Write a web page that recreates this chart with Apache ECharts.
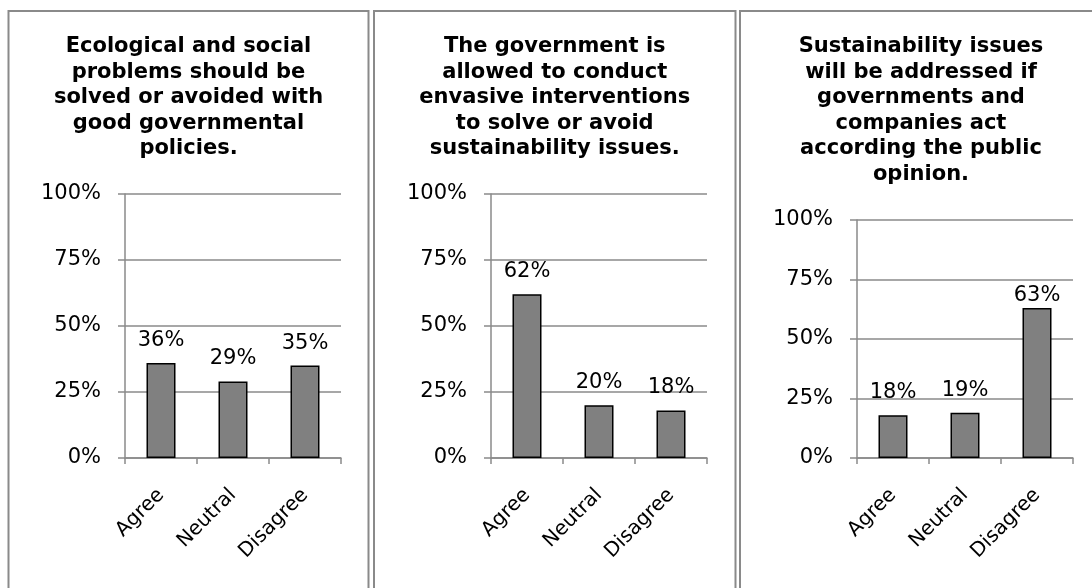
<!DOCTYPE html>
<html>
<head>
<meta charset="utf-8">
<script src="https://cdn.jsdelivr.net/npm/echarts@6/dist/echarts.min.js"></script>
<style>
  html, body { margin: 0; padding: 0; background: #ffffff; }
  #chart { width: 1092px; height: 588px; }
</style>
</head>
<body>
<div id="chart"></div>
<script>
// Survey answer categories shared by all three statements
const categories = ['Agree', 'Neutral', 'Disagree'];

// Statement headings (one per panel)
const statementTitles = [
  'Ecological and social\nproblems should be\nsolved or avoided with\ngood governmental\npolicies.',
  'The government is\nallowed to conduct\nenvasive interventions\nto solve or avoid\nsustainability issues.',
  'Sustainability issues\nwill be addressed if\ngovernments and\ncompanies act\naccording the public\nopinion.'
];

// Share of respondents (%) per answer
const policyShares = [36, 29, 35];
const interventionShares = [62, 20, 18];
const publicOpinionShares = [18, 19, 63];

// Percentage axis
const axisMin = 0;
const axisMax = 100;
const axisStep = 25;

const seriesValues = [policyShares, interventionShares, publicOpinionShares];

// Panel frames and plot areas (pixels)
const panels = [
  { x0: 8.5, x1: 368.5, plotLeft: 125, plotTop: 194 },
  { x0: 374, x1: 735.5, plotLeft: 491, plotTop: 194 },
  { x0: 740, x1: 1102, plotLeft: 857, plotTop: 220 }
];
const plotWidth = 216;
const plotBottom = 458;

const FONT = 'DejaVu Sans, Verdana, sans-serif';
const GRAY = '#8a8a8a';

// The tall "Disagree" bar of the last panel has its value label tucked closer to the bar
function barData(vals, panelIdx) {
  return vals.map((v, j) =>
    (panelIdx === 2 && j === 2) ? { value: v, label: { distance: 2 } } : v
  );
}

const chart = echarts.init(document.getElementById('chart'), null, { renderer: 'canvas' });

const option = {
  backgroundColor: '#ffffff',
  animation: false,
  title: panels.map((p, i) => ({
    text: statementTitles[i],
    left: (p.x0 + p.x1) / 2,
    top: 34,
    padding: 0,
    textAlign: 'center',
    textStyle: {
      fontFamily: FONT,
      fontWeight: 'bold',
      fontSize: 21,
      lineHeight: 25.5,
      color: '#000000'
    }
  })),
  graphic: panels.map(p => ({
    type: 'rect',
    silent: true,
    z: -1,
    shape: { x: p.x0, y: 11, width: p.x1 - p.x0, height: 620 },
    style: { fill: 'none', stroke: GRAY, lineWidth: 2 }
  })),
  grid: panels.map(p => ({
    left: p.plotLeft,
    width: plotWidth,
    top: p.plotTop,
    height: plotBottom - p.plotTop,
    containLabel: false
  })),
  xAxis: panels.map((p, i) => ({
    type: 'category',
    gridIndex: i,
    data: categories,
    axisLine: { show: true, lineStyle: { color: GRAY, width: 1.5 } },
    axisTick: { show: true, length: 6, lineStyle: { color: GRAY, width: 1.5 } },
    axisLabel: {
      rotate: 45,
      margin: 34,
      fontFamily: FONT,
      fontSize: 20,
      color: '#000000'
    },
    splitLine: { show: false }
  })),
  yAxis: panels.map((p, i) => ({
    type: 'value',
    gridIndex: i,
    min: axisMin,
    max: axisMax,
    interval: axisStep,
    axisLine: { show: true, lineStyle: { color: GRAY, width: 1.5 } },
    axisTick: { show: true, length: 7, lineStyle: { color: GRAY, width: 1.5 } },
    axisLabel: {
      margin: 24,
      formatter: '{value}%',
      fontFamily: FONT,
      fontSize: 21,
      color: '#000000'
    },
    splitLine: { show: true, lineStyle: { color: GRAY, width: 1.5 } }
  })),
  series: seriesValues.map((vals, i) => ({
    type: 'bar',
    xAxisIndex: i,
    yAxisIndex: i,
    data: barData(vals, i),
    barWidth: 29,
    itemStyle: { color: '#808080', borderColor: '#000000', borderWidth: 1.5 },
    label: {
      show: true,
      position: 'top',
      distance: 12,
      formatter: '{c}%',
      fontFamily: FONT,
      fontSize: 21,
      color: '#000000'
    }
  }))
};

chart.setOption(option);
</script>
</body>
</html>
